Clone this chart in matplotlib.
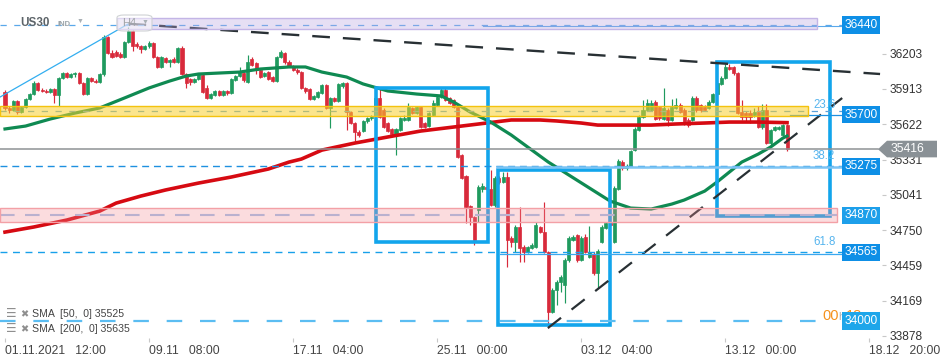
import matplotlib
matplotlib.use("Agg")
import matplotlib.pyplot as plt
import matplotlib.transforms as mtransforms
from matplotlib.patches import Rectangle, Polygon, FancyBboxPatch

plt.rcParams['font.family'] = ['Liberation Sans', 'DejaVu Sans']

# ---------------- data (US30, H4 candles) ----------------
opens = [35888,35756,35739,35813,35723,35764,35830,35871,35962,35904,
         35896,35888,35912,35863,36003,36044,36011,36036,36044,35962,
         35871,36003,35978,35970,36036,36341,36209,36217,36201,36176,
         36300,36390,36283,36267,36242,36267,36292,36176,36094,36168,
         36135,36160,36135,36250,36036,35995,35970,35995,36028,35921,
         35838,35863,35896,35863,35896,35879,35986,36019,36044,35970,
         36160,36127,36069,36019,36052,36011,35978,36176,36209,36135,
         36102,36069,36052,35921,35912,35830,35846,35879,35945,35756,
         35838,35813,35937,35962,35723,35632,35558,35566,35649,35673,
         35698,35838,35739,35632,35583,35541,35574,35657,35657,35756,
         35714,35764,35632,35607,35698,35780,35846,35904,35838,35822,
         35764,35368,35195,34948,34857,34915,35088,35104,35088,34956,
         35179,35146,35187,34684,34651,34775,34610,34568,34601,34610,
         34775,34733,34568,34074,34255,34321,34297,34503,34668,34709,
         34503,34692,34527,34552,34395,34651,34767,34808,34651,35088,
         35310,35261,35277,35409,35574,35681,35739,35739,35805,35764,
         35665,35739,35657,35756,35780,35739,35657,35657,35838,35780,
         35764,35756,35805,35871,35954,36003,36094,36094,36044,35723,
         35714,35714,35698,35723,35599,35739,35467,35574,35583,35533,
         35615]
highs = [35904,35772,35822,35822,35772,35838,35879,35978,35970,35921,
         35912,35921,35921,36011,36052,36052,36044,36052,36052,35970,
         36011,36011,35995,36044,36357,36349,36234,36234,36217,36308,
         36423,36399,36300,36275,36275,36308,36300,36184,36184,36176,
         36160,36176,36259,36267,36044,36003,36003,36044,36036,35945,
         35879,35904,35904,35904,35904,36003,36028,36094,36052,36193,
         36176,36135,36077,36052,36061,36019,36184,36234,36217,36151,
         36110,36085,36061,35929,35921,35863,35896,35954,35954,35846,
         35846,35962,35970,35970,35731,35640,35574,35657,35681,35698,
         35855,35921,35756,35640,35591,35591,35681,35698,35797,35764,
         35772,35772,35640,35723,35822,35863,35921,35921,35846,35830,
         35772,35376,35203,34956,34865,35121,35137,35137,35245,35195,
         35195,35228,35228,34700,34791,34940,34626,34618,34643,34816,
         34783,34981,34577,34272,34338,34379,34519,34700,34709,34717,
         34700,34717,34783,34568,34593,34791,34816,34824,35113,35335,
         35327,35294,35409,35599,35698,35822,35830,35822,35822,35772,
         35921,35756,35830,35838,35797,35756,35673,35855,35855,35789,
         35780,35822,35879,35986,36019,36118,36118,36102,36052,35822,
         35731,35739,35756,35772,35789,35789,35583,35607,35607,35624,
         35624]
lows = [35739,35714,35731,35706,35714,35756,35822,35863,35896,35888,
        35879,35879,35797,35772,35995,36003,36003,36011,35954,35863,
        35863,35970,35962,35962,36019,36201,36168,36176,36168,36168,
        36292,36226,36250,36209,36234,36250,36168,36085,36085,36127,
        36094,36127,36127,36028,35921,35945,35962,35986,35879,35830,
        35830,35855,35855,35855,35863,35871,35978,36011,35970,35962,
        36102,36036,36003,36011,35986,35970,35970,36168,36118,36094,
        36061,36036,35912,35879,35822,35822,35838,35871,35747,35591,
        35805,35805,35921,35574,35624,35484,35517,35558,35632,35657,
        35690,35673,35591,35558,35533,35368,35566,35649,35649,35706,
        35706,35591,35591,35599,35690,35772,35838,35813,35789,35756,
        35343,35170,34808,34791,34626,34816,35063,35080,34948,34940,
        35129,35137,34445,34610,34568,34486,34486,34560,34593,34601,
        34725,34560,33942,34066,34132,34239,34148,34486,34659,34486,
        34494,34560,34519,34379,34272,34643,34758,34783,34643,35080,
        35245,35245,35269,35401,35566,35673,35731,35731,35657,35657,
        35657,35607,35649,35747,35714,35615,35599,35649,35723,35723,
        35731,35747,35797,35863,35945,35995,36069,36028,35706,35657,
        35640,35632,35681,35591,35583,35459,35451,35566,35574,35525,
        35405]
closes = [35756,35739,35813,35723,35764,35830,35871,35962,35904,35896,
          35888,35912,35863,36003,36044,36011,36036,36044,35962,35871,
          36003,35978,35970,36036,36341,36209,36176,36184,36176,36300,
          36390,36267,36267,36242,36267,36292,36176,36094,36176,36135,
          36151,36135,36250,36036,35962,35970,35995,36036,35888,35838,
          35871,35896,35863,35896,35879,35995,36019,36052,35986,36135,
          36110,36069,36011,36044,35995,35978,36176,36217,36135,36102,
          36069,36052,35921,35896,35830,35855,35888,35945,35756,35838,
          35813,35954,35962,35723,35632,35558,35533,35649,35673,35681,
          35838,35681,35599,35566,35541,35583,35673,35673,35764,35714,
          35764,35599,35599,35714,35797,35846,35904,35822,35797,35764,
          35352,35179,34940,34857,34668,35104,35113,35088,34956,35179,
          35146,35187,34668,34651,34775,34601,34568,34610,34626,34791,
          34733,34568,34074,34255,34321,34362,34503,34684,34692,34503,
          34684,34568,34568,34395,34577,34775,34808,34791,35096,35319,
          35261,35277,35401,35583,35681,35739,35797,35797,35665,35673,
          35756,35657,35764,35780,35723,35632,35615,35838,35739,35739,
          35739,35805,35871,35962,36003,36094,36077,36044,35714,35681,
          35681,35681,35723,35599,35739,35467,35574,35599,35599,35615,
          35416]

sma50_idx = [0,5,11,17,23,29,35,40,44,47,52,57,62,69,73,77,83,87,93,100,
             106,109,113,118,123,128,132,137,142,147,152,157,162,165,170,173,176,179,183,186,
             189,190]
sma50_val = [35583,35607,35665,35714,35756,35838,35921,35978,36019,36036,
             36044,36052,36077,36094,36094,36052,36011,35954,35896,35871,
             35855,35805,35723,35640,35533,35409,35310,35203,35096,34989,
             34931,34923,34964,34997,35071,35146,35228,35310,35376,35434,
             35508,35525]
sma200_idx = [0,7,15,23,27,33,39,47,55,64,69,72,77,85,93,101,109,117,123,130,
              134,140,144,150,157,163,170,176,183,190]
sma200_val = [34733,34775,34832,34906,34972,35030,35080,35137,35187,35253,
              35310,35335,35409,35467,35517,35566,35599,35632,35657,35657,
              35649,35632,35615,35615,35615,35624,35632,35640,35640,35635]

levels = [36440, 35700, 35275, 34870, 34565, 34000]
current_price = 35416
fib_labels = ['23.6', '38.2', '61.8']
fib_levels = [35700, 35275, 34565]
y_ticks = [36203, 35913, 35622, 35331, 35041, 34750, 34459, 34169, 33878]
x_tick_pos = [0, 35, 70, 105, 140, 175, 210]
x_tick_labels = ['01.11.2021   12:00', '09.11   08:00', '17.11   04:00', '25.11   00:00',
                 '03.12   04:00', '13.12   00:00', '18.12   20:00']
sma_legend = [('SMA  [50,  0]', 35525), ('SMA  [200,  0]', 35635)]
bands = [(36407, 36498), (35690, 35772), (34816, 34931)]
zones = [(90.1, 117.3, 34651, 35921), (119.8, 147.0, 33967, 35245), (173.0, 200.4, 34865, 36135)]

# ---------------- layout ----------------
W, H = 950, 361
AXW, AXH = 882, 338
STEP = 4.116
fig = plt.figure(figsize=(W / 100, H / 100), dpi=100)
ax = fig.add_axes([0, 1 - AXH / H, AXW / W, AXH / H])
X0 = -5 / STEP
X1 = (AXW - 5) / STEP
ax.set_xlim(X0, X1)
ax.set_ylim(33860, 36646)
for s in ax.spines.values():
    s.set_visible(False)


def px_x(px):
    return (px - 5) / STEP


def fx(px):
    return px / AXW


def fy(py):
    return 1 - py / AXH


trans = mtransforms.blended_transform_factory(ax.transAxes, ax.transData)

# candles
GREEN, RED = '#1f9a5e', '#d82a3b'
idx = list(range(len(closes)))
cols = [GREEN if c >= o else RED for o, c in zip(opens, closes)]
ax.vlines(idx, lows, highs, colors=cols, linewidth=0.85, zorder=3)
ax.bar(idx, [c - o for o, c in zip(opens, closes)], bottom=opens, width=0.74,
       color=cols, edgecolor=cols, linewidth=0.5, zorder=3)

# moving averages
ax.plot(sma200_idx, sma200_val, color='#d60a12', lw=2.6, zorder=4, solid_joinstyle='round')
ax.plot(sma50_idx, sma50_val, color='#0f8a52', lw=2.3, zorder=4, solid_joinstyle='round')

# zones
for x0, x1, lo, hi in zones:
    ax.add_patch(Rectangle((x0, lo), x1 - x0, hi - lo, fill=False, ec='#12a5ec', lw=2.6, zorder=4.5))

# trend lines
ax.plot([X0, 29.9], [35846, 36448], color='#33aef0', lw=0.9, zorder=5)
ax.plot([30, 212.6], [36450, 36036], color='#283034', lw=1.7, dashes=(7.5, 5.5), zorder=5)
ax.plot([131.9, 203.4], [33942, 35838], color='#283034', lw=1.6, dashes=(7.5, 6), zorder=5)

# horizontal levels
xe = px_x(842)
ax.plot([X0, xe], [levels[0]] * 2, color='#5aa8ea', lw=0.9, dashes=(5, 6), zorder=5)
ax.plot([px_x(483), xe], [levels[0] - 12] * 2, color='#5aa8ea', lw=0.8, zorder=5)
ax.plot([X0, xe], [35731] * 2, color='#5a9fd8', lw=0.9, dashes=(5, 6), zorder=5)
ax.plot([px_x(790), xe], [levels[1]] * 2, color='#1e90e0', lw=0.9, zorder=5)
ax.plot([X0, xe], [levels[2]] * 2, color='#1e90e0', lw=1.0, dashes=(5, 3.5), zorder=5)
ax.plot([px_x(497), xe], [levels[2] - 7] * 2, color='#7cc4f4', lw=1.8, zorder=5)
ax.plot([X0, px_x(838)], [levels[3]] * 2, color='#a3c2ea', lw=1.5, dashes=(7, 5), zorder=5)
ax.plot([X0, xe], [levels[4]] * 2, color='#18a0ea', lw=1.0, dashes=(5, 4), zorder=5)
ax.plot([px_x(500), xe], [levels[4] - 9] * 2, color='#3aa8f0', lw=0.9, zorder=5)
ax.plot([X0, px_x(830)], [levels[5]] * 2, color='#5bbdf2', lw=1.6, dashes=(7, 8), zorder=5)
ax.plot([X0, px_x(878)], [current_price] * 2, color='#8e9295', lw=1.1, zorder=5)

# translucent bands on top
band_specs = [(px_x(117), px_x(817), '#b9a6e0', 0.35, '#c3b5e6'),
              (X0, px_x(808), '#f8d12f', 0.55, '#f4c20d'),
              (X0, px_x(837), '#f28b93', 0.30, '#f3a0a6')]
for (lo, hi), (x0, x1, fc, al, ec) in zip(bands, band_specs):
    ax.add_patch(Rectangle((x0, lo), x1 - x0, hi - lo, fc=fc, alpha=al, ec='none', zorder=6))
    ax.add_patch(Rectangle((x0, lo), x1 - x0, hi - lo, fill=False, ec=ec, lw=1.0, zorder=6))

# fib labels
for lbl, lv in zip(fib_labels, fib_levels):
    ax.annotate(lbl, (px_x(813), lv), xytext=(0, 7.3), textcoords='offset points',
                ha='left', va='center', color='#55b4ee', fontsize=8.3, zorder=7)

# countdown (partly hidden behind the 34000 label, as in the source)
ax.text(fx(822), fy(316), '00', transform=ax.transAxes, color='#f5921e', fontsize=10.5,
        ha='left', va='center', zorder=15)
ax.text(fx(838.5), fy(317), 'h', transform=ax.transAxes, color='#b0b0b0', fontsize=8,
        ha='left', va='center', zorder=15)
ax.text(fx(846), fy(316), '18', transform=ax.transAxes, color='#f5921e', fontsize=10.5,
        ha='left', va='center', zorder=15)
ax.text(fx(862), fy(317), 'm', transform=ax.transAxes, color='#b0b0b0', fontsize=8,
        ha='left', va='center', zorder=15)

# level labels
label_cols = ['#0e8fe6', '#0e8fe6', '#0e8fe6', '#1d9fea', '#0e8fe6', '#1ea6ea']
for lv, col in zip(levels, label_cols):
    ax.text(fx(861), lv, f'{lv}', transform=trans, ha='center', va='center', color='white',
            fontsize=8.6, bbox=dict(boxstyle='square,pad=0.22', fc=col, ec='none'),
            zorder=20, clip_on=False)

# current price label
ax.add_patch(Polygon([(fx(878), current_price), (fx(887), 35486), (fx(937), 35486),
                      (fx(937), 35349), (fx(887), 35349)], closed=True, transform=trans,
                     fc='#8a9196', ec='none', clip_on=False, zorder=20))
ax.text(fx(907), current_price, f'{current_price}', transform=trans, ha='center', va='center',
        color='white', fontsize=8.8, zorder=21, clip_on=False)

# axes ticks
ax.yaxis.tick_right()
ax.set_yticks(y_ticks)
ax.set_yticklabels([str(v) for v in y_ticks])
ax.tick_params(axis='y', length=3, color='#c8c8c8', labelsize=8.6, labelcolor='#333333', pad=2.5)
ax.set_xticks(x_tick_pos)
ax.set_xticklabels(x_tick_labels)
for t in ax.get_xticklabels():
    t.set_ha('left')
ax.tick_params(axis='x', length=3, color='#c8c8c8', labelsize=8.7, labelcolor='#444444', pad=2)

# top-left instrument tag
ax.text(fx(20), fy(23), 'US30', transform=ax.transAxes, fontsize=8.4, fontweight='bold',
        color='#5d6469', ha='left', va='center', zorder=8)
ax.text(fx(57), fy(24), 'IND', transform=ax.transAxes, fontsize=5.5, fontweight='bold',
        color='#9aa3a8', ha='left', va='center', zorder=8)
ax.text(fx(77), fy(21), '▼', transform=ax.transAxes, fontsize=5, color='#a9b0b5',
        ha='left', va='center', zorder=8)
ax.add_patch(FancyBboxPatch((fx(117), fy(31)), fx(152) - fx(117), fy(15) - fy(31),
                            boxstyle='round,pad=0,rounding_size=0.008', transform=ax.transAxes,
                            fc=(1, 1, 1, 0.45), ec='#cfd2d4', lw=0.8, zorder=8))
ax.text(fx(122), fy(23), 'H4', transform=ax.transAxes, fontsize=8, color='#a0a4a8',
        ha='left', va='center', zorder=9)
ax.text(fx(142), fy(22), '▼', transform=ax.transAxes, fontsize=5, color='#a9b0b5',
        ha='left', va='center', zorder=9)

# SMA legend
for k, (name, val) in enumerate(sma_legend):
    yy = fy(314 + 15 * k)
    ax.text(fx(6), yy, '☰', transform=ax.transAxes, fontsize=8.5, color='#8f8f8f',
            ha='left', va='center', zorder=9)
    ax.text(fx(20), yy, '✖', transform=ax.transAxes, fontsize=7, color='#8f8f8f',
            ha='left', va='center', zorder=9)
    ax.text(fx(32), yy, f'{name} {val}', transform=ax.transAxes, fontsize=7.6, color='#444444',
            ha='left', va='center', zorder=9)

fig.savefig('out.png', dpi=100, facecolor='white')
